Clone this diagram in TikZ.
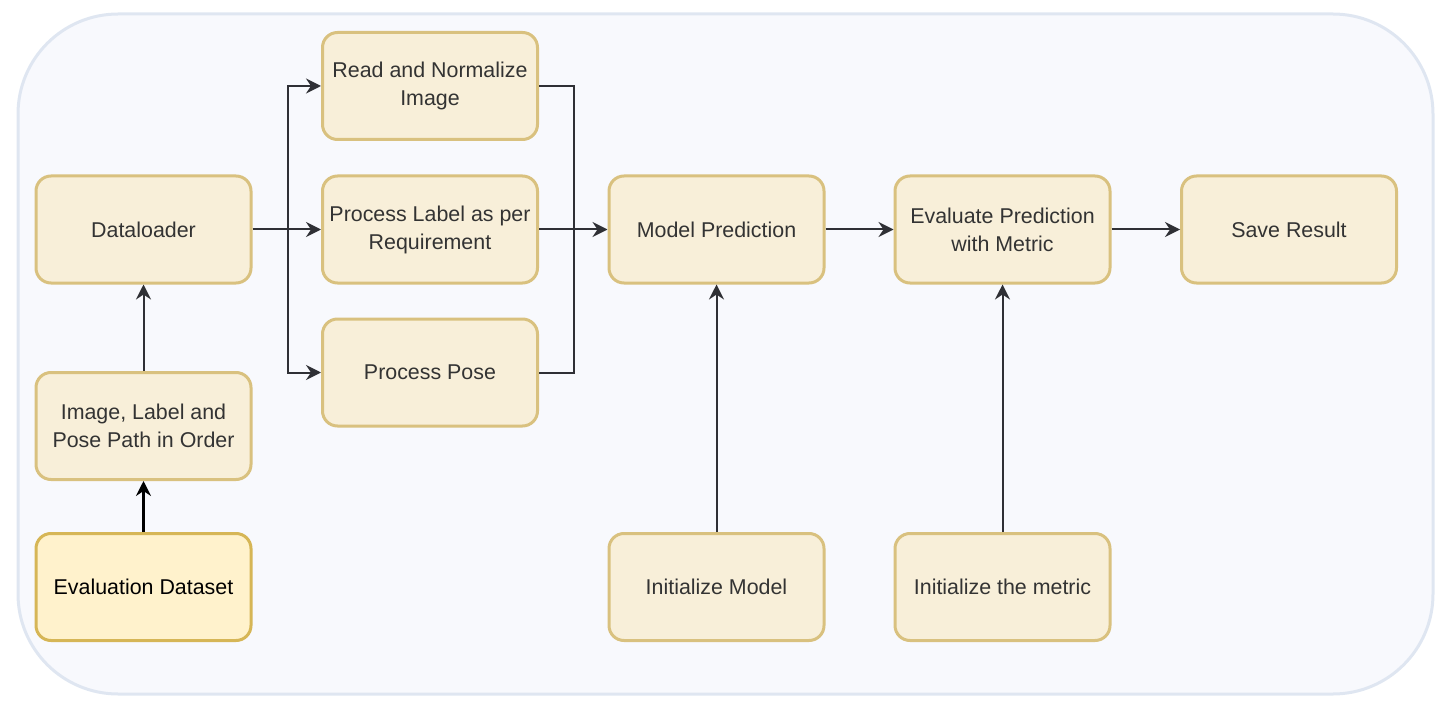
\documentclass[tikz,border=0pt]{standalone}
\usepackage{fontspec}
\setmainfont{Liberation Sans}
\usetikzlibrary{arrows.meta}
\definecolor{boxfill}{HTML}{F8EFD9}
\definecolor{boxline}{HTML}{D9C17F}
\definecolor{dsfill}{HTML}{FFF2CC}
\definecolor{dsline}{HTML}{D6B656}
\definecolor{bgfill}{HTML}{F8F9FD}
\definecolor{bgline}{HTML}{DFE6F1}
\definecolor{txt}{HTML}{333333}
\definecolor{arr}{HTML}{2F3035}
\tikzset{
  stepbox/.style={draw=boxline, fill=boxfill, line width=3pt, rounded corners=15pt,
    minimum width=215pt, minimum height=107pt, inner sep=0pt, align=center,
    text=txt, font=\fontsize{21.4}{28}\selectfont},
  dsbox/.style={stepbox, draw=dsline, fill=dsfill, text=black},
  conn/.style={draw=arr, line width=2pt, -{Stealth[length=15pt,width=15pt,inset=5pt]}},
  conn2/.style={draw=black, line width=2.2pt, -{Stealth[length=15pt,width=15pt,inset=5pt]}},
  plainline/.style={draw=arr, line width=2pt}
}
\begin{document}
\begin{tikzpicture}[x=1pt,y=-1pt]
\useasboundingbox (0,0) rectangle (1451,714);
\draw[fill=bgfill, draw=bgline, line width=3pt, rounded corners=100pt] (18,14) rectangle (1433,694);

\node[stepbox] (dl) at (143.5,229.5) {Dataloader};
\node[stepbox] (read) at (430,86) {Read and Normalize\\Image};
\node[stepbox] (lab) at (430,229.5) {Process Label as per\\Requirement};
\node[stepbox] (pose) at (430,372.5) {Process Pose};
\node[stepbox] (model) at (716.5,229.5) {Model Prediction};
\node[stepbox] (eval) at (1002.5,229.5) {Evaluate Prediction\\with Metric};
\node[stepbox] (save) at (1289,229.5) {Save Result};
\node[stepbox] (ilp) at (143.5,426) {Image, Label and\\Pose Path in Order};
\node[dsbox] (ds) at (143.5,587) {Evaluation Dataset};
\node[stepbox] (im) at (716.5,587) {Initialize Model};
\node[stepbox] (imet) at (1002.5,587) {Initialize the metric};

\coordinate (sl) at (288,229.5);
\coordinate (sr) at (574,229.5);

\draw[conn2] (ds) -- (ilp);
\draw[conn] (ilp) -- (dl);
\draw[conn] (dl) -- (lab);
\draw[conn] (sl) |- (read);
\draw[conn] (sl) |- (pose);
\draw[plainline] (read.east) -| (sr);
\draw[plainline] (pose.east) -| (sr);
\draw[conn] (lab) -- (model);
\draw[conn] (im) -- (model);
\draw[conn] (imet) -- (eval);
\draw[conn] (model) -- (eval);
\draw[conn] (eval) -- (save);
\end{tikzpicture}
\end{document}
